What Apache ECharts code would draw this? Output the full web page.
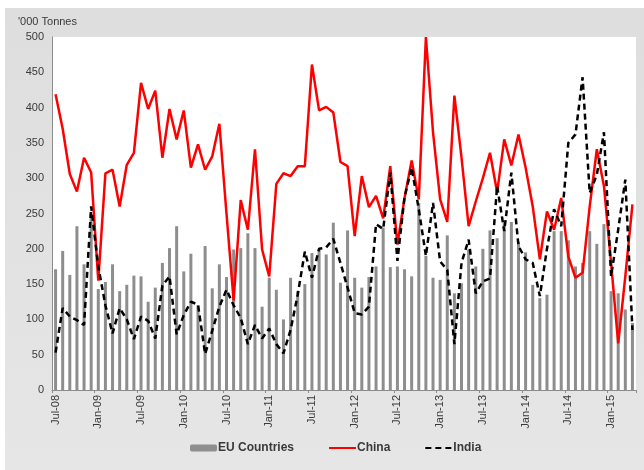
<!DOCTYPE html>
<html>
<head>
<meta charset="utf-8">
<script src="https://cdn.jsdelivr.net/npm/echarts@6/dist/echarts.min.js"></script>
<style>
  html, body { margin: 0; padding: 0; background: #fff; }
  #chart { position: absolute; left: 5px; top: 8px; width: 639px; height: 462px; }
</style>
</head>
<body>
<div id="chart"></div>
<script>
// monthly, Jul-08 .. Apr-15
var months = [
  'Jul-08','Aug-08','Sep-08','Oct-08','Nov-08','Dec-08',
  'Jan-09','Feb-09','Mar-09','Apr-09','May-09','Jun-09','Jul-09','Aug-09','Sep-09','Oct-09','Nov-09','Dec-09',
  'Jan-10','Feb-10','Mar-10','Apr-10','May-10','Jun-10','Jul-10','Aug-10','Sep-10','Oct-10','Nov-10','Dec-10',
  'Jan-11','Feb-11','Mar-11','Apr-11','May-11','Jun-11','Jul-11','Aug-11','Sep-11','Oct-11','Nov-11','Dec-11',
  'Jan-12','Feb-12','Mar-12','Apr-12','May-12','Jun-12','Jul-12','Aug-12','Sep-12','Oct-12','Nov-12','Dec-12',
  'Jan-13','Feb-13','Mar-13','Apr-13','May-13','Jun-13','Jul-13','Aug-13','Sep-13','Oct-13','Nov-13','Dec-13',
  'Jan-14','Feb-14','Mar-14','Apr-14','May-14','Jun-14','Jul-14','Aug-14','Sep-14','Oct-14','Nov-14','Dec-14',
  'Jan-15','Feb-15','Mar-15','Apr-15'
];

var euCountries = [
  171, 197, 163, 232, 178, 250, 143, 153, 178, 140, 149, 162,
  161, 125, 145, 180, 201, 232, 168, 193, 120, 204, 144, 178,
  160, 199, 201, 222, 201, 118, 159, 142, 100, 159, 140, 150,
  194, 199, 192, 237, 152, 226, 159, 145, 160, 175, 230, 174,
  175, 171, 161, 265, 190, 159, 156, 219, 137, 151, 199, 175,
  200, 226, 215, 240, 238, 210, 195, 149, 130, 135, 225, 225,
  212, 175, 180, 225, 207, 235, 140, 137, 114, 95
];

var china = [
  419, 370, 306, 281, 329, 308, 155, 307, 312, 260, 319, 336,
  435, 398, 424, 329, 398, 355, 396, 315, 348, 312, 331, 377,
  250, 127, 269, 227, 341, 199, 161, 292, 307, 303, 317, 317,
  461, 396, 401, 393, 323, 317, 218, 303, 259, 275, 243, 317,
  206, 272, 325, 270, 500, 365, 270, 238, 417, 329, 232, 267,
  300, 336, 280, 355, 318, 362, 315, 260, 185, 253, 227, 272,
  189, 159, 166, 260, 341, 289, 180, 66, 161, 263
];

var india = [
  53, 116, 104, 99, 92, 260, 175, 120, 80, 116, 100, 72,
  104, 98, 73, 148, 161, 79, 106, 125, 121, 51, 84, 118,
  142, 120, 102, 65, 92, 73, 87, 65, 52, 85, 135, 196,
  159, 200, 202, 214, 180, 145, 109, 107, 118, 235, 228, 308,
  183, 273, 315, 256, 190, 265, 182, 170, 65, 180, 213, 137,
  154, 158, 289, 225, 308, 204, 185, 180, 133, 200, 256, 232,
  350, 362, 443, 279, 305, 365, 161, 227, 298, 85
];

var chartDom = document.getElementById('chart');
var myChart = echarts.init(chartDom);

var axisColor = '#8c8c8c';
var textColor = '#3a3a3a';

var option = {
  backgroundColor: {
    type: 'linear', x: 0, y: 0, x2: 0, y2: 1,
    colorStops: [{ offset: 0, color: '#dedede' }, { offset: 1, color: '#e6e6e6' }]
  },
  animation: false,
  title: {
    text: "'000 Tonnes",
    left: 8,
    top: 3,
    textStyle: { fontFamily: 'Liberation Sans', fontSize: 11, fontWeight: 'normal', color: textColor }
  },
  legend: {
    bottom: 11,
    left: 180,
    itemGap: 34,
    itemWidth: 27,
    itemHeight: 7,
    textStyle: { fontFamily: 'Liberation Sans', fontSize: 12, fontWeight: 'bold', color: textColor, padding: [0, 0, 0, -4] },
    data: [
      { name: 'EU Countries' },
      { name: 'China', itemStyle: { opacity: 0 } },
      { name: 'India', itemStyle: { opacity: 0 } }
    ]
  },
  grid: {
    left: 47,
    right: 8,
    top: 29,
    bottom: 80,
    show: true,
    backgroundColor: '#ffffff',
    borderWidth: 0
  },
  xAxis: {
    type: 'category',
    data: months,
    boundaryGap: true,
    axisLine: { lineStyle: { color: axisColor, width: 1 } },
    axisTick: { show: true, interval: 5, length: 3, lineStyle: { color: axisColor } },
    axisLabel: {
      interval: 5,
      rotate: 90,
      margin: 5,
      fontFamily: 'Liberation Sans',
      fontSize: 11,
      color: textColor
    }
  },
  yAxis: {
    type: 'value',
    min: 0,
    max: 500,
    interval: 50,
    axisLine: { show: true, lineStyle: { color: axisColor, width: 1 } },
    axisTick: { show: false },
    splitLine: { show: false },
    axisLabel: {
      margin: 8,
      fontFamily: 'Liberation Sans',
      fontSize: 11,
      color: textColor
    }
  },
  series: [
    {
      name: 'EU Countries',
      type: 'bar',
      data: euCountries,
      barWidth: 3,
      itemStyle: { color: '#8e8e8e' }
    },
    {
      name: 'China',
      type: 'line',
      data: china,
      symbol: 'none',
      lineStyle: { color: '#ff0000', width: 2.5 },
      itemStyle: { color: '#ff0000' }
    },
    {
      name: 'India',
      type: 'line',
      data: india,
      symbol: 'none',
      lineStyle: { color: '#000000', width: 2.5, type: [6, 4] },
      itemStyle: { color: '#000000' }
    }
  ]
};

option && myChart.setOption(option);
window.addEventListener('resize', function () { myChart.resize(); });
</script>
</body>
</html>
